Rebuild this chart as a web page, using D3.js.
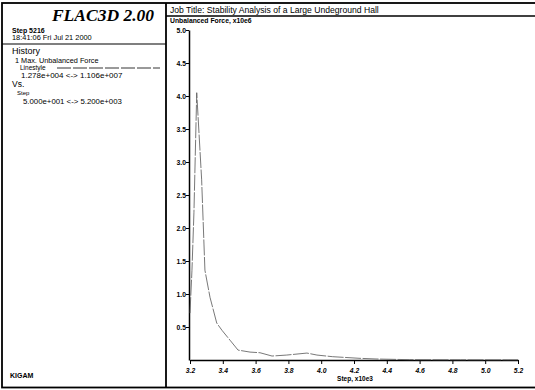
<!DOCTYPE html>
<html><head><meta charset="utf-8">
<script src="https://cdn.jsdelivr.net/npm/d3@7/dist/d3.min.js"></script>
<style>body{margin:0;background:#fff}svg{display:block}text{font-family:"Liberation Sans",Arial,sans-serif;fill:#000}</style>
</head><body>
<script>
const stepX = [3.200,3.212,3.224,3.241,3.271,3.291,3.322,3.363,3.395,3.444,3.493,3.566,3.627,3.700,3.790,3.913,3.974,4.070,4.237,4.340,4.540,4.850,5.200];
const forceY = [0.71,1.36,2.23,4.05,2.73,1.36,0.95,0.56,0.45,0.30,0.15,0.12,0.11,0.06,0.075,0.105,0.075,0.05,0.025,0.015,0.005,0.003,0.002];
const xTicks = [3.2,3.4,3.6,3.8,4.0,4.2,4.4,4.6,4.8,5.0,5.2];
const yTicks = [0.5,1.0,1.5,2.0,2.5,3.0,3.5,4.0,4.5,5.0];
const infoLines = [
  {t:"Step 5216", x:12, y:33, s:7, w:"bold"},
  {t:"18:41:06 Fri Jul 21 2000", x:12, y:39.5, s:7.4, w:"normal"},
  {t:"History", x:12, y:54, s:9, w:"normal"},
  {t:"1 Max. Unbalanced Force", x:15, y:63, s:7.3, w:"normal"},
  {t:"Linestyle", x:20, y:69.5, s:6.5, w:"normal"},
  {t:"1.278e+004 <-> 1.106e+007", x:21, y:78, s:8, w:"normal"},
  {t:"Vs.", x:12, y:87, s:8.5, w:"normal"},
  {t:"Step", x:17, y:95, s:6, w:"normal"},
  {t:"5.000e+001 <-> 5.200e+003", x:23, y:104, s:7.8, w:"normal"}
];

const W=535,H=390;
const svg=d3.select("body").append("svg").attr("width",W).attr("height",H);

// frames
const fr=svg.append("g").attr("fill","none").attr("stroke","#000");
fr.append("rect").attr("x",2).attr("y",3).attr("width",540).attr("height",384.5).attr("stroke-width",1.8);
fr.append("line").attr("x1",166).attr("x2",166).attr("y1",3).attr("y2",388).attr("stroke-width",1.8);
fr.append("line").attr("x1",166).attr("x2",W).attr("y1",16).attr("y2",16).attr("stroke-width",1.6);
fr.append("line").attr("x1",2).attr("x2",166).attr("y1",44).attr("y2",44).attr("stroke-width",1.2);
fr.append("line").attr("x1",57).attr("x2",160).attr("y1",68).attr("y2",68).attr("stroke-width",0.8).attr("stroke-dasharray","14,2");

// left panel text
svg.append("text").attr("x",103).attr("y",20.5).attr("text-anchor","middle")
  .style("font-family","'Liberation Serif','Times New Roman',serif").style("font-weight","bold").style("font-style","italic")
  .style("font-size","17.5px").text("FLAC3D 2.00");
svg.selectAll("text.info").data(infoLines).join("text").attr("class","info")
  .attr("x",d=>d.x).attr("y",d=>d.y).style("font-size",d=>d.s+"px").style("font-weight",d=>d.w).text(d=>d.t);
svg.append("text").attr("x",10).attr("y",378).style("font-size","7px").style("font-weight","bold").text("KIGAM");

// header
svg.append("text").attr("x",170).attr("y",12.5).style("font-size","8.6px").text("Job Title: Stability Analysis of a Large Undeground Hall");
svg.append("text").attr("x",170).attr("y",23).style("font-size","6.8px").style("font-weight","bold").text("Unbalanced Force, x10e6");

// scales
const x=d3.scaleLinear().domain([3.2,5.2]).range([190,518]);
const y=d3.scaleLinear().domain([0,5]).range([360,30]);

const xa=svg.append("g").attr("transform","translate(0,360)")
  .call(d3.axisBottom(x).tickValues(xTicks).tickFormat(d3.format(".1f")).tickSize(4).tickSizeOuter(0));
xa.select(".domain").attr("stroke-width",1.5);
xa.selectAll("text").attr("dy","0.95em").style("font-size","6.8px").style("font-weight","bold").style("font-style","italic").style("font-family","'Liberation Sans',Arial,sans-serif");
const ya=svg.append("g").attr("transform","translate(189,0)")
  .call(d3.axisLeft(y).tickValues(yTicks).tickFormat(d3.format(".1f")).tickSize(3).tickSizeOuter(0));
ya.select(".domain").attr("stroke-width",1.5);
ya.selectAll("text").attr("x",-3).style("font-size","6.8px").style("font-weight","bold").style("font-family","'Liberation Sans',Arial,sans-serif");

svg.append("text").attr("x",355).attr("y",381).attr("text-anchor","middle").style("font-size","6.5px").style("font-weight","bold").text("Step, x10e3");

// curve
svg.append("path").datum(stepX.map((v,i)=>[v,forceY[i]]))
  .attr("fill","none").attr("stroke","#555").attr("stroke-width",0.8).attr("stroke-dasharray","16,1.5")
  .attr("d",d3.line().x(d=>x(d[0])).y(d=>y(d[1])));
</script>
</body></html>
